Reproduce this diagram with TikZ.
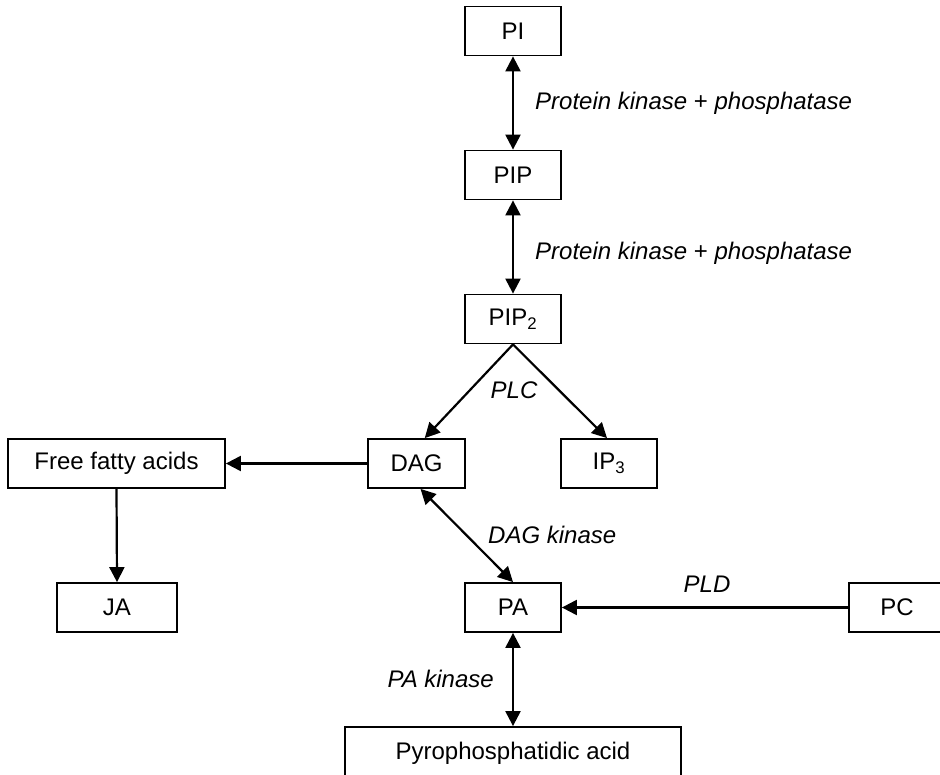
\documentclass[tikz,border=0pt]{standalone}
\usepackage{fontspec}
\setmainfont{Liberation Sans}
\usetikzlibrary{arrows.meta}
\tikzset{
  every node/.style={font=\fontsize{24}{28}\selectfont},
  box/.style={draw, line width=1.8pt, minimum height=49pt, inner sep=0pt, anchor=center},
  lbl/.style={font=\fontsize{24}{28}\selectfont\itshape, inner sep=0pt},
  conn/.style={line width=2.2pt, -{Triangle[length=15pt,width=15pt]}},
  dconn/.style={line width=2.2pt, {Triangle[length=15pt,width=15pt]}-{Triangle[length=15pt,width=15pt]}}
}
\begin{document}
\begin{tikzpicture}[x=1pt,y=-1pt]
\useasboundingbox (0,0) rectangle (940,775);
\clip (0,0) rectangle (940,775);
\node[box, minimum width=96pt] (PI) at (513,31) {PI};
\node[box, minimum width=96pt] (PIP) at (513,175) {PIP};
\node[box, minimum width=96pt] (PIP2) at (513,319) {PIP\textsubscript{2}};
\node[box, minimum width=97pt] (DAG) at (416.5,463.5) {DAG};
\node[box, minimum width=96pt] (IP3) at (609,463.5) {IP\textsubscript{3}};
\node[box, minimum width=217pt] (FFA) at (116.5,463.5) {Free fatty acids};
\node[box, minimum width=120pt] (JA) at (117,607.5) {JA};
\node[box, minimum width=96pt] (PA) at (513,607.5) {PA};
\node[box, minimum width=96pt] (PC) at (897,607.5) {PC};
\node[box, minimum width=336pt, minimum height=52pt] (PYRO) at (513,753) {Pyrophosphatidic acid};

\draw[dconn] (PI.south) -- (PIP.north);
\draw[dconn] (PIP.south) -- (PIP2.north);
\draw[conn] (PIP2.south) -- (DAG.72);
\draw[conn] (PIP2.south) -- ([xshift=-2pt]IP3.north);
\draw[conn] (DAG.west) -- (FFA.east);
\draw[conn] (FFA.south) -- (JA.north);
\draw[dconn] (DAG.-81) -- (PA.north);
\draw[conn] (PC.west) -- (PA.east);
\draw[dconn] (PA.south) -- (PYRO.north);

\node[lbl, anchor=base west] (l1) at (535,110) {Protein kinase {\upshape +} phosphatase};
\node[lbl, anchor=base west] (l2) at (535,260) {Protein kinase {\upshape +} phosphatase};
\node[lbl, anchor=base] (plc) at (514,399) {PLC};
\node[lbl, anchor=base west] (dagk) at (488,543) {DAG kinase};
\node[lbl, anchor=base] (pld) at (707,592) {PLD};
\node[lbl, anchor=base east] (pak) at (494,687) {PA kinase};
\end{tikzpicture}
\end{document}
